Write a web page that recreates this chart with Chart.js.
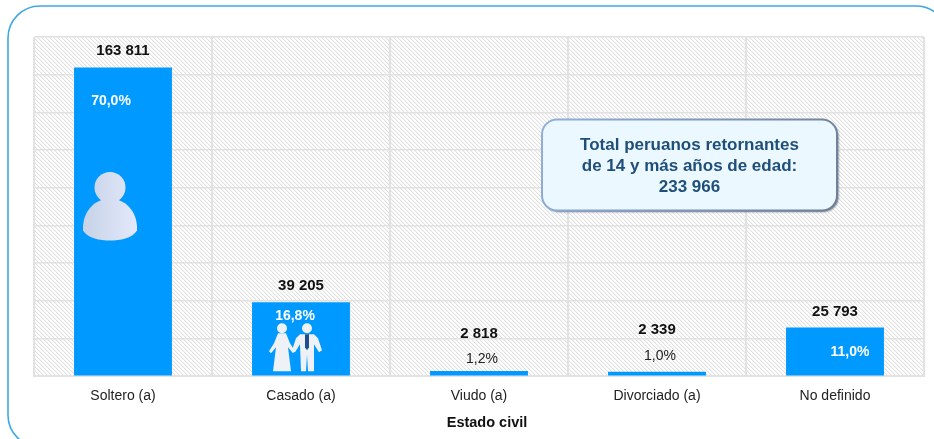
<!DOCTYPE html>
<html><head><meta charset="utf-8">
<style>html,body{margin:0;padding:0;background:#fff;overflow:hidden}#w{width:934px;height:439px;position:relative}</style>
<script src="https://cdn.jsdelivr.net/npm/chart.js@4/dist/chart.umd.min.js"></script>
</head><body><div id="w"><canvas id="c" width="934" height="439"></canvas></div>
<script>
const categories = ['Soltero (a)', 'Casado (a)', 'Viudo (a)', 'Divorciado (a)', 'No definido'];
const values = [163811, 39205, 2818, 2339, 25793];
const valueLabels = ['163 811', '39 205', '2 818', '2 339', '25 793'];
const percentLabels = ['70,0%', '16,8%', '1,2%', '1,0%', '11,0%'];
const axisTitle = 'Estado civil';
const calloutLines = ['Total peruanos retornantes', 'de 14 y más años de edad:', '233 966'];

const FONT = '"Liberation Sans", Arial, sans-serif';
const BLUE = '#0099ff';

function hatch(ctx) {
  const t = document.createElement('canvas'); t.width = 4; t.height = 4;
  const g = t.getContext('2d');
  g.fillStyle = '#fff'; g.fillRect(0, 0, 4, 4);
  g.fillStyle = '#e0e0e0';
  for (let i = 0; i < 4; i++) g.fillRect(i, i, 1, 1);
  g.fillStyle = '#f5f5f5';
  for (let i = 0; i < 4; i++) g.fillRect((i + 1) % 4, i, 1, 1);
  return ctx.createPattern(t, 'repeat');
}
function rr(ctx, x, y, w, h, r) { ctx.beginPath(); ctx.roundRect(x, y, w, h, r); }

const backdrop = {
  id: 'backdrop',
  beforeDraw(chart) {
    const { ctx, chartArea: a } = chart;
    ctx.save();
    ctx.fillStyle = '#fff'; ctx.fillRect(0, 0, chart.width, chart.height);
    rr(ctx, 8, 6, 940, 441, 32);
    ctx.strokeStyle = '#3fa9e3'; ctx.lineWidth = 1.6; ctx.stroke();
    ctx.fillStyle = hatch(ctx);
    ctx.fillRect(a.left, a.top, a.right - a.left, a.bottom - a.top);
    ctx.restore();
  }
};

function drawPerson(ctx, cx, base) {
  const g = ctx.createLinearGradient(cx - 28, 0, cx + 28, 0);
  g.addColorStop(0, '#c6d2e6'); g.addColorStop(1, '#e4e9fc');
  ctx.fillStyle = g;
  ctx.beginPath(); ctx.arc(cx, base - 53, 15.5, 0, Math.PI * 2); ctx.fill();
  ctx.beginPath();
  ctx.moveTo(cx - 27, base - 10);
  ctx.bezierCurveTo(cx - 28, base - 30, cx - 14, base - 42, cx, base - 42);
  ctx.bezierCurveTo(cx + 14, base - 42, cx + 28, base - 30, cx + 27, base - 10);
  ctx.bezierCurveTo(cx + 22, base - 2, cx + 10, base, cx, base);
  ctx.bezierCurveTo(cx - 10, base, cx - 22, base - 2, cx - 27, base - 10);
  ctx.fill();
}
function drawCouple(ctx, cx, base) {
  ctx.fillStyle = '#eef1f5';
  const b = cx - 19, m = cx + 6;
  ctx.beginPath(); ctx.arc(b, base - 43, 5, 0, 7); ctx.fill();
  ctx.beginPath();
  ctx.moveTo(b - 4, base - 38); ctx.lineTo(b + 4, base - 38);
  ctx.lineTo(b + 8, base - 28); ctx.lineTo(b + 13, base - 20); ctx.lineTo(b + 11, base - 18);
  ctx.lineTo(b + 6, base - 24); ctx.lineTo(b + 9, base); ctx.lineTo(b - 9, base);
  ctx.lineTo(b - 6, base - 24); ctx.lineTo(b - 11, base - 18); ctx.lineTo(b - 13, base - 20);
  ctx.lineTo(b - 8, base - 28); ctx.closePath(); ctx.fill();
  ctx.beginPath(); ctx.arc(m, base - 43, 5, 0, 7); ctx.fill();
  ctx.beginPath();
  ctx.moveTo(m - 7, base - 37); ctx.lineTo(m + 7, base - 37);
  ctx.lineTo(m + 11, base - 33); ctx.lineTo(m + 15, base - 21); ctx.lineTo(m + 12, base - 19);
  ctx.lineTo(m + 7, base - 27); ctx.lineTo(m + 7, base); ctx.lineTo(m + 1, base);
  ctx.lineTo(m, base - 17); ctx.lineTo(m - 1, base); ctx.lineTo(m - 6, base);
  ctx.lineTo(m - 7, base - 27); ctx.lineTo(m - 12, base - 19); ctx.lineTo(m - 15, base - 21);
  ctx.lineTo(m - 11, base - 33); ctx.closePath(); ctx.fill();
  ctx.fillStyle = '#1f4f8f';
  ctx.beginPath(); ctx.moveTo(m - 2, base - 37); ctx.lineTo(m + 2, base - 37);
  ctx.lineTo(m + 2, base - 24); ctx.lineTo(m, base - 21); ctx.lineTo(m - 2, base - 24); ctx.closePath(); ctx.fill();
}

const annotations = {
  id: 'annotations',
  afterDatasetsDraw(chart) {
    const { ctx } = chart;
    const bars = chart.getDatasetMeta(0).data;
    const y0 = chart.scales.y.getPixelForValue(0);
    const valueGap = [17, 16, 37, 42, 16];
    const pctStyle = [
      { dx: -12, dy: 34, color: '#fff', bold: true },
      { dx: -6, dy: 14, color: '#fff', bold: true },
      { dx: 3, dy: -12, color: '#222', bold: false },
      { dx: 3, dy: -16, color: '#222', bold: false },
      { dx: 15, dy: 25, color: '#fff', bold: true }
    ];
    ctx.save();
    drawPerson(ctx, bars[0].x - 13, chart.scales.y.getPixelForValue(72000));
    drawCouple(ctx, bars[1].x, y0 - 5);
    ctx.textAlign = 'center'; ctx.textBaseline = 'middle';
    bars.forEach((bar, i) => {
      ctx.font = 'bold 15px ' + FONT; ctx.fillStyle = '#111';
      ctx.fillText(valueLabels[i], bar.x, bar.y - valueGap[i]);
      const s = pctStyle[i];
      ctx.font = (s.bold ? 'bold ' : '') + '14px ' + FONT; ctx.fillStyle = s.color;
      ctx.fillText(percentLabels[i], bar.x + s.dx, bar.y + s.dy);
    });
    ctx.font = 'bold 14.5px ' + FONT; ctx.fillStyle = '#111';
    ctx.fillText(axisTitle, bars[2].x + 8, 422.5);
    ctx.restore();
  },
  afterDraw(chart) {
    const { ctx } = chart;
    ctx.save();
    const x = 542, y = 119.5, w = 295, h = 91, r = 15;
    ctx.shadowColor = 'rgba(30,50,80,.65)'; ctx.shadowBlur = 2; ctx.shadowOffsetX = 1.5; ctx.shadowOffsetY = 1.5;
    rr(ctx, x, y, w, h, r); ctx.fillStyle = '#ebf8ff'; ctx.fill();
    ctx.shadowColor = 'transparent';
    const g = ctx.createLinearGradient(x, y, x + w, y + h);
    g.addColorStop(0, '#8fb0dc'); g.addColorStop(1, '#6f7f98');
    ctx.strokeStyle = g; ctx.lineWidth = 2; ctx.stroke();
    ctx.fillStyle = '#1f4e79'; ctx.font = 'bold 17px ' + FONT;
    ctx.textAlign = 'center'; ctx.textBaseline = 'middle';
    calloutLines.forEach((t, i) => ctx.fillText(t, 689.5, 145 + i * 21.3));
    ctx.restore();
  }
};

new Chart(document.getElementById('c'), {
  type: 'bar',
  data: { labels: categories, datasets: [{ data: values, backgroundColor: BLUE, categoryPercentage: 0.55, barPercentage: 1 }] },
  plugins: [backdrop, annotations],
  options: {
    responsive: false, animation: false, devicePixelRatio: 1,
    layout: { padding: { left: 34, right: 10, top: 37, bottom: 22 } },
    plugins: { legend: { display: false }, tooltip: { enabled: false }, title: { display: false } },
    scales: {
      y: {
        min: 0, max: 180000,
        afterFit(s) { s.width = 0; },
        ticks: { display: false, stepSize: 20000 },
        grid: { color: '#e2e2e2', lineWidth: 1.5, drawTicks: false },
        border: { display: false }
      },
      x: {
        ticks: { color: '#222', font: { family: FONT, size: 14 }, padding: 12, maxRotation: 0 },
        grid: { color: '#e2e2e2', lineWidth: 2, drawTicks: false },
        border: { color: '#e2e2e2', width: 2 }
      }
    }
  }
});
</script></body></html>
